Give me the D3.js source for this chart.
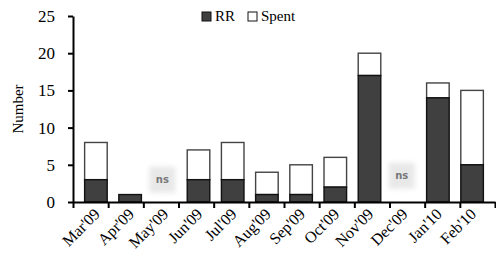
<!DOCTYPE html>
<html>
<head>
  <meta charset="utf-8">
  <script src="https://cdn.jsdelivr.net/npm/d3@7"></script>
  <style type="text/css">
    body { margin: 0; background: #fff; }
    svg text { font-family: "Liberation Serif", "Times New Roman", serif; fill: #000; }
    .axis path, .axis line { stroke: #000; stroke-width: 2px; }
    .ns text { font-family: "DejaVu Sans", sans-serif; font-weight: bold; fill: #777; }
  </style>
</head>
<body>
  <script type="text/javascript">

  const months = ["Mar'09", "Apr'09", "May'09", "Jun'09", "Jul'09", "Aug'09",
                  "Sep'09", "Oct'09", "Nov'09", "Dec'09", "Jan'10", "Feb'10"];
  const rr    = [3, 1, null, 3, 3, 1, 1, 2, 17, null, 14, 5];
  const spent = [5, 0, null, 4, 5, 3, 4, 4, 3, null, 2, 10];
  const yTicks = [0, 5, 10, 15, 20, 25];
  const seriesNames = ["RR", "Spent"];

  const margin = {top: 16, left: 73, right: 1, bottom: 61};
  const W = 496, H = 263;
  const width = W - margin.left - margin.right;
  const height = H - margin.top - margin.bottom;

  const svg = d3.select('body').append('svg')
    .attr('width', W).attr('height', H);

  const g = svg.append('g')
    .attr('transform', `translate(${margin.left},${margin.top})`);

  const x = d3.scaleBand().domain(months).range([0, width]).padding(0.34);
  const xEdge = d3.scaleLinear().domain([0, months.length]).range([0, width]);
  const y = d3.scaleLinear().domain([0, 25]).range([height, 0]);

  const rows = months.map((m, i) => ({month: m, rr: rr[i], spent: spent[i]}));

  // bars: RR at the bottom, Spent stacked on top
  const bars = g.selectAll('g.bar').data(rows.filter(d => d.rr !== null))
    .enter().append('g').attr('class', 'bar');

  bars.filter(d => d.spent > 0).append('rect')
    .attr('x', d => x(d.month))
    .attr('width', x.bandwidth())
    .attr('y', d => y(d.rr + d.spent))
    .attr('height', d => y(d.rr) - y(d.rr + d.spent))
    .attr('fill', '#fff').attr('stroke', '#444').attr('stroke-width', 1.4);

  bars.append('rect')
    .attr('x', d => x(d.month))
    .attr('width', x.bandwidth())
    .attr('y', d => y(d.rr))
    .attr('height', d => y(0) - y(d.rr))
    .attr('fill', '#404040').attr('stroke', '#111').attr('stroke-width', 1.4);

  // "ns" markers
  const blur = svg.append('defs').append('filter').attr('id', 'fuzz')
    .attr('x', '-30%').attr('y', '-30%').attr('width', '160%').attr('height', '160%');
  blur.append('feGaussianBlur').attr('stdDeviation', 2.5);

  const ns = g.selectAll('g.ns').data(rows.filter(d => d.rr === null))
    .enter().append('g').attr('class', 'ns')
    .attr('transform', (d, i) => `translate(${x(d.month) + x.bandwidth() / 2 - 2},${y(3) - 4 * (i === 1)})`);
  ns.append('rect')
    .attr('x', -13).attr('y', -13).attr('width', 26).attr('height', 26)
    .attr('fill', '#e8e8e8').attr('filter', 'url(#fuzz)');
  ns.append('text')
    .attr('text-anchor', 'middle').attr('dy', '0.35em')
    .attr('font-size', 10).text('ns');

  // axes
  const gy = g.append('g').attr('class', 'axis')
    .call(d3.axisLeft(y).tickValues(yTicks).tickSize(5).tickSizeOuter(0).tickPadding(13));
  gy.selectAll('text').attr('font-size', 17);

  g.append('g').attr('class', 'axis')
    .attr('transform', `translate(0,${height})`)
    .call(d3.axisBottom(xEdge).ticks(months.length).tickFormat('').tickSize(6).tickSizeOuter(0));

  const gx = g.append('g')
    .attr('transform', `translate(0,${height})`)
    .call(d3.axisBottom(x).tickSize(0).tickPadding(0));
  gx.select('.domain').remove();
  gx.selectAll('text')
    .attr('font-size', 16)
    .attr('text-anchor', 'end')
    .attr('dy', 0).attr('y', 0)
    .attr('transform', 'translate(5,13) rotate(-45)');

  // y label
  svg.append('text')
    .attr('transform', `translate(23,${margin.top + height / 2}) rotate(-90)`)
    .attr('text-anchor', 'middle').attr('font-size', 15)
    .text('Number');

  // legend
  const legend = svg.append('g').attr('transform', 'translate(202,12)');
  const li = legend.selectAll('g').data(seriesNames).enter().append('g')
    .attr('transform', (d, i) => `translate(${i * 46},0)`);
  li.append('rect').attr('width', 9).attr('height', 9)
    .attr('fill', (d, i) => i ? '#fff' : '#404040')
    .attr('stroke', '#111').attr('stroke-width', 1);
  li.append('text').attr('x', 13).attr('y', 9).attr('font-size', 15).text(d => d);

  </script>
</body>
</html>
